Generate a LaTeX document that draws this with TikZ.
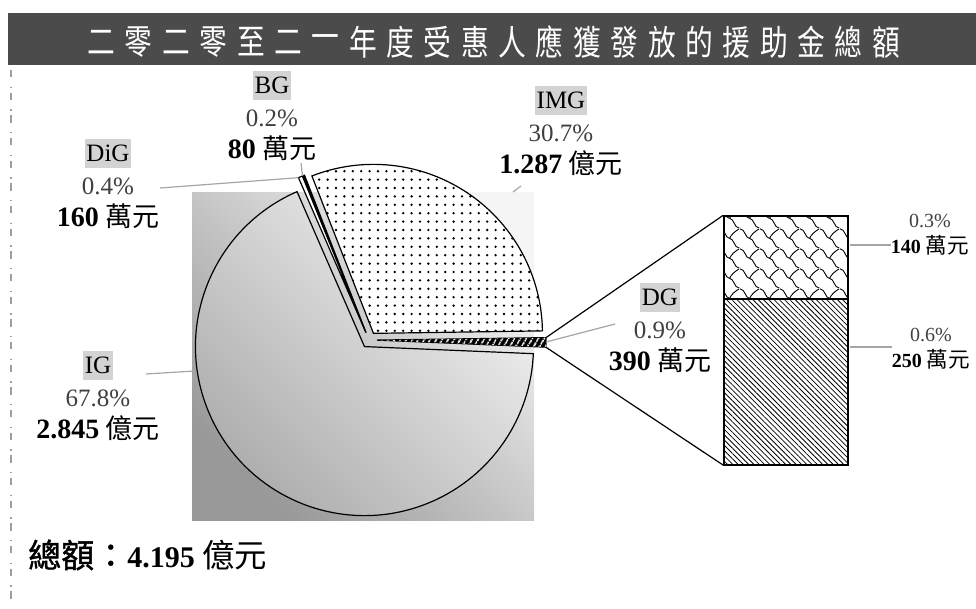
\documentclass[tikz,border=0pt]{standalone}
\usepackage{fontspec}
\setmainfont{Liberation Serif}
\newfontfamily\cjk[Scale=1.08]{Noto Sans CJK TC}
\newfontfamily\cjkheavy[Scale=1.1,FakeBold=1.2]{Noto Sans CJK TC}
\newfontfamily\cjktitle{Noto Sans CJK TC}
\usetikzlibrary{patterns.meta,positioning}

\definecolor{barbg}{HTML}{4B4B4B}
\definecolor{tagbg}{HTML}{D3D3D3}
\definecolor{pctgray}{HTML}{404040}
\definecolor{leadgray}{HTML}{A5A5A5}
\definecolor{rulegray}{HTML}{9E9E9E}

\newcommand{\grouptag}[1]{{\setlength{\fboxsep}{0pt}\colorbox{tagbg}{\rule[-0.25em]{0pt}{1.15em}\kern0.07em#1\kern0.07em}}}
\newcommand{\amount}[2]{{\fontsize{21}{24}\selectfont\textbf{#1}} {\cjk #2}}

\tikzdeclarepattern{
  name=shingle, type=uncolored,
  bounding box={(0pt,0pt) and (15pt,15pt)},
  tile size={(15pt,15pt)},
  code={
    \draw[line width=0.7pt] (0pt,15pt) .. controls (4pt,15pt) and (4pt,7.5pt) .. (7.5pt,7.5pt) .. controls (11pt,7.5pt) and (11pt,0pt) .. (15pt,0pt);
    \draw[line width=0.7pt] (7.5pt,7.5pt) .. controls (9pt,11pt) and (12pt,13pt) .. (15pt,15pt);
  }}

\begin{document}
\begin{tikzpicture}[x=0.75pt,y=0.75pt,
    title char/.style={text=white,font=\cjktitle\fontsize{26}{26}\selectfont,xscale=0.8,inner sep=0pt},
    main label/.style={align=center,inner sep=0pt,font=\fontsize{18.75}{24.4}\selectfont},
    side label/.style={align=center,inner sep=0pt,font=\fontsize{15}{19.5}\selectfont},
    slice/.style={draw=black,line width=0.9pt,line join=miter},
    leader/.style={draw=leadgray,line width=0.9pt},
    zoom line/.style={draw=black,line width=0.9pt},
    bar box/.style={draw=black,line width=1.1pt,minimum width=93pt,inner sep=0pt}]
\useasboundingbox (0,0) rectangle (976,608);

% title bar
\fill[barbg] (8,543) rectangle (976,595);
\foreach \ch [count=\i from 0] in {二,零,二,零,至,二,一,年,度,受,惠,人,應,獲,發,放,的,援,助,金,總,額}
    \node[title char] (title\i) at ({101.5+37.36*\i},566) {\ch};

% frame rule on the left
\draw[rulegray,line width=0.8pt,dash pattern=on 5.6pt off 7pt on 1pt off 3.4pt] (11,538) -- (11,0);

% shaded plot area
\shade[top color=white!96!black,bottom color=white!60!black,shading angle=-45] (192,88) rectangle (534,415);

% the pie
\coordinate (O) at (369,268);
\draw[slice,top color=white!95!black,bottom color=white!66!black,shading angle=-45]
    ([shift={(235.56:8)}]O) -- ++(113.52:169) arc[start angle=113.52,end angle=357.6,radius=169] -- cycle;
\draw[slice,fill=white,postaction={pattern={Dots[distance=6.3pt,radius=1pt]}}]
    ([shift={(56.1:8)}]O) -- ++(0.84:169) arc[start angle=0.84,end angle=111.36,radius=169] -- cycle;
\draw[slice,fill=black]
    ([shift={(111.72:8)}]O) -- ++(111.36:169) arc[start angle=111.36,end angle=112.08,radius=169] coordinate (BGtip) -- cycle;
\draw[slice,fill=white]
    ([shift={(112.8:8)}]O) -- ++(112.08:169) arc[start angle=112.08,end angle=113.52,radius=169] coordinate (DiGtip) -- cycle;
\draw[slice,fill=black,postaction={pattern={Lines[angle=60,distance=4pt,line width=1.2pt]},pattern color=white}]
    ([shift={(-0.78:8)}]O) -- ++(-2.4:169) coordinate (DGlow) arc[start angle=-2.4,end angle=0.84,radius=169] coordinate (DGhigh) -- cycle;

% bar of pie for DG
\node[bar box,minimum height=62.25pt,pattern=shingle] (dgtop) at (786,350.5) {};
\node[bar box,minimum height=124.5pt,pattern={Lines[angle=-45,distance=2.8pt,line width=0.6pt]}] (dgbot) at (786,226) {};
\path[zoom line]
    (DGhigh) edge (dgtop.north west)
    (DGlow) edge (dgbot.south west);

% labels
\node[main label] (BGlab) at (272,492) {\grouptag{BG}\\\textcolor{pctgray}{0.2\%}\\\amount{80}{萬元}};
\node[main label] (IMGlab) at (561,477) {\grouptag{IMG}\\\textcolor{pctgray}{30.7\%}\\\amount{1.287}{億元}};
\node[main label] (DiGlab) at (108,424) {\grouptag{DiG}\\\textcolor{pctgray}{0.4\%}\\\amount{160}{萬元}};
\node[main label] (IGlab) at (98,212) {\grouptag{IG}\\\textcolor{pctgray}{67.8\%}\\\amount{2.845}{億元}};
\node[main label] (DGlab) at (660,280) {\grouptag{DG}\\\textcolor{pctgray}{0.9\%}\\\amount{390}{萬元}};
\node[side label] (p03) at (930,373) {\textcolor{pctgray}{0.3\%}\\\textbf{140} {\cjk 萬元}};
\node[side label] (p06) at (931,259) {\textcolor{pctgray}{0.6\%}\\\textbf{250} {\cjk 萬元}};
\node[anchor=west,inner sep=0pt,font=\fontsize{22.5}{26}\selectfont] (total) at (28,53) {{\cjkheavy 總額：}\textbf{4.195} {\cjk 億元}};

% leader lines
\coordinate (IMGa) at (513,416);
\coordinate (IMGb) at (521,422);
\coordinate (BGa) at (301,445);
\coordinate (DiGa) at (160,420);
\coordinate (IGa) at (146,234);
\coordinate (IGb) at (195,237);
\coordinate (DGa) at (546,266);
\coordinate (DGb) at (615,284);
\coordinate (p03a) at (850,363);
\coordinate (p06a) at (850,261);
\path[leader]
    (IMGa) edge (IMGb)
    (BGa) edge (BGtip)
    (DiGa) edge (DiGtip)
    (IGa) edge (IGb)
    (DGa) edge (DGb)
    (p03a) edge (p03a -| p03.west)
    (p06a) edge (p06a -| p06.west)
    ;
\end{tikzpicture}
\end{document}
